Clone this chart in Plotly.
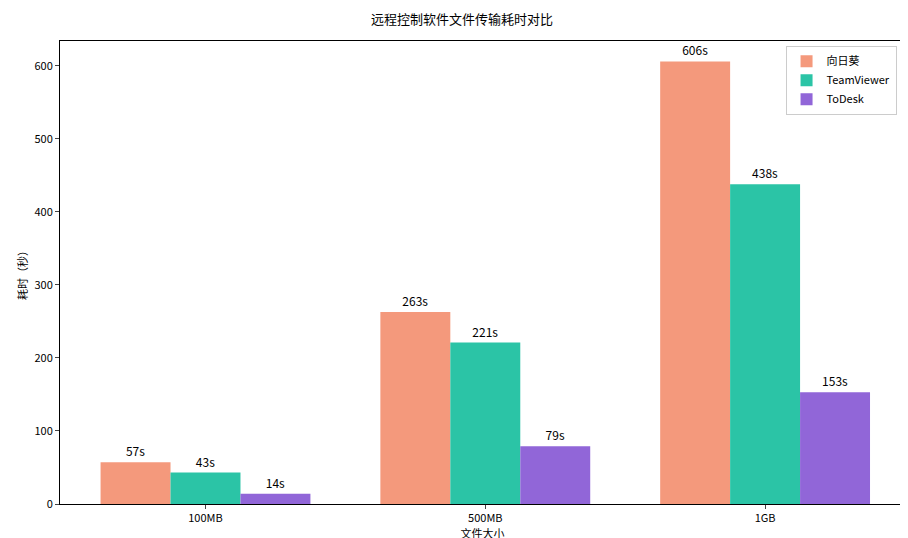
import plotly.graph_objects as go

categories = ["100MB", "500MB", "1GB"]
series_names = ["向日葵", "TeamViewer", "ToDesk"]
xiangrikui = [57, 263, 606]
teamviewer = [43, 221, 438]
todesk = [14, 79, 153]
colors = ["#F4997C", "#2BC4A6", "#9166D8"]

fig = go.Figure()
for name, vals, c in zip(series_names, [xiangrikui, teamviewer, todesk], colors):
    fig.add_bar(x=categories, y=vals, name=name, marker=dict(color=c, line=dict(width=0)),
                text=[f"{v}s" for v in vals], textposition="outside",
                textfont=dict(size=12, color="black"), cliponaxis=False)

font = "Noto Sans CJK SC, DejaVu Sans"
fig.update_layout(
    width=908, height=538, barmode="group", bargap=0.25, bargroupgap=0,
    plot_bgcolor="white", paper_bgcolor="white",
    font=dict(family=font, size=11, color="black"),
    title=dict(text="远程控制软件文件传输耗时对比", x=0.5, xanchor="center", y=0.978, yanchor="middle", font=dict(size=13)),
    margin=dict(l=52, r=11, t=33, b=42),
    uniformtext=dict(minsize=11, mode="show"),
    legend=dict(x=0.99, y=0.99, xanchor="right", yanchor="top", bordercolor="#cccccc",
                borderwidth=1, bgcolor="rgba(255,255,255,0.8)", font=dict(size=11)),
    xaxis=dict(title=dict(text="文件大小", standoff=2, font=dict(size=11)), range=[-0.52, 2.5], showline=True, mirror=True,
               linecolor="black", ticks="outside", ticklen=4, showgrid=False, automargin=False),
    yaxis=dict(title=dict(text="耗时（秒）", standoff=4, font=dict(size=11)), range=[0, 634], dtick=100, showline=True, mirror=True,
               linecolor="black", ticks="outside", ticklen=4, showgrid=False, zeroline=False, automargin=False),
)
fig.write_html("out.html")
